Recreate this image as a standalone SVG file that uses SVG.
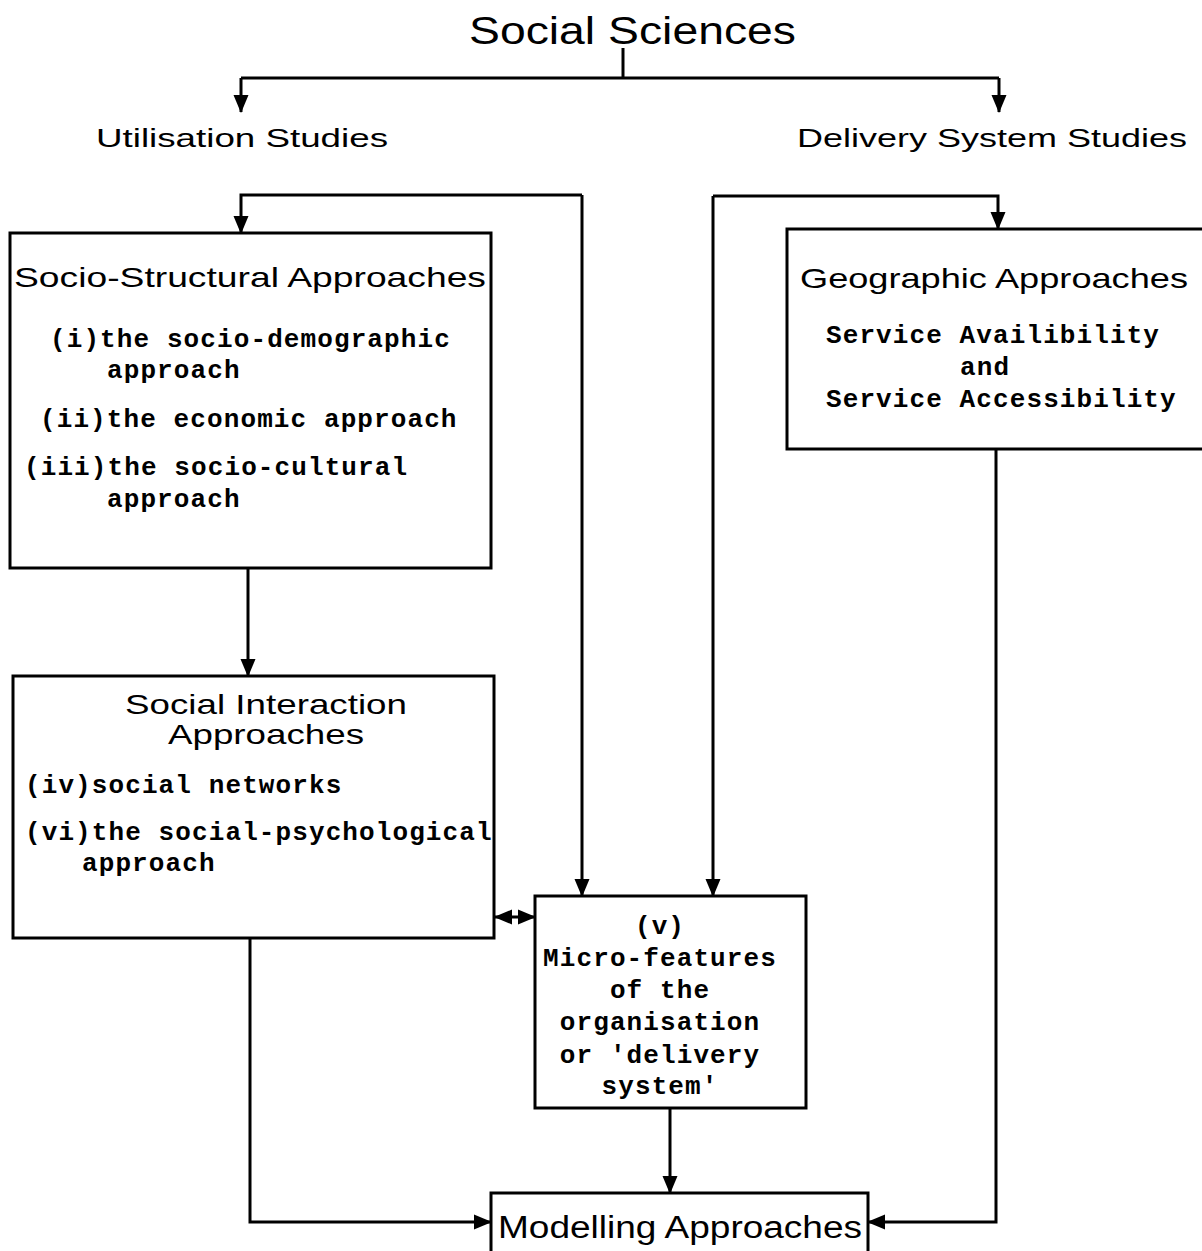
<svg xmlns="http://www.w3.org/2000/svg" width="1202" height="1251" viewBox="0 0 1202 1251">
  <style>
    .bg { fill: #ffffff; }
    .box { fill: #ffffff; stroke: #000; stroke-width: 3; }
    .wire { fill: none; stroke: #000; stroke-width: 3; }
    .head { font-family: "Liberation Sans", Arial, sans-serif; fill: #000; }
    .mono { font-family: "Liberation Mono", "Courier New", monospace; font-weight: bold; font-size: 26px; letter-spacing: 1.1px; fill: #000; }
  </style>
  <defs>
    <marker id="arrow" markerUnits="userSpaceOnUse" markerWidth="18" markerHeight="18" viewBox="0 0 18 18" refX="17" refY="9" orient="auto-start-reverse">
      <path d="M0,1.5 L18,9 L0,16.5 Z" fill="#000"/>
    </marker>
  </defs>
  <rect class="bg" x="0" y="0" width="1202" height="1251"/>

  <!-- connectors -->
  <g id="connectors">
    <path class="wire" d="M623,48 V78"/>
    <path class="wire" d="M241,78 H999"/>
    <path class="wire" d="M241,78 V112" marker-end="url(#arrow)"/>
    <path class="wire" d="M999,78 V112" marker-end="url(#arrow)"/>
    <path class="wire" d="M582,195 H241 V233" marker-end="url(#arrow)"/>
    <path class="wire" d="M582,195 V896" marker-end="url(#arrow)"/>
    <path class="wire" d="M713,196 H998 V229" marker-end="url(#arrow)"/>
    <path class="wire" d="M713,196 V896" marker-end="url(#arrow)"/>
    <path class="wire" d="M248,568 V676" marker-end="url(#arrow)"/>
    <path class="wire" d="M495,917 H535" marker-start="url(#arrow)" marker-end="url(#arrow)"/>
    <path class="wire" d="M670,1108 V1193" marker-end="url(#arrow)"/>
    <path class="wire" d="M250,938 V1222 H491" marker-end="url(#arrow)"/>
    <path class="wire" d="M996,449 V1222 H868" marker-end="url(#arrow)"/>
  </g>

  <!-- top-level headings -->
  <g id="social-sciences">
    <text class="head" x="469" y="44" font-size="38" textLength="327" lengthAdjust="spacingAndGlyphs">Social Sciences</text>
  </g>
  <g id="utilisation-studies">
    <text class="head" x="96" y="147" font-size="26" textLength="292" lengthAdjust="spacingAndGlyphs">Utilisation Studies</text>
  </g>
  <g id="delivery-system-studies">
    <text class="head" x="797" y="147" font-size="26" textLength="390" lengthAdjust="spacingAndGlyphs">Delivery System Studies</text>
  </g>

  <!-- Socio-Structural Approaches -->
  <g id="socio-structural">
    <rect class="box" x="10" y="233" width="481" height="335"/>
    <text class="head" x="14" y="287" font-size="28" textLength="472" lengthAdjust="spacingAndGlyphs">Socio-Structural Approaches</text>
    <text class="mono" x="50" y="347">(i)the socio-demographic</text>
    <text class="mono" x="107" y="378">approach</text>
    <text class="mono" x="40" y="427">(ii)the economic approach</text>
    <text class="mono" x="24" y="475">(iii)the socio-cultural</text>
    <text class="mono" x="107" y="507">approach</text>
  </g>

  <!-- Geographic Approaches -->
  <g id="geographic">
    <rect class="box" x="787" y="229" width="430" height="220"/>
    <text class="head" x="800" y="288" font-size="28" textLength="388" lengthAdjust="spacingAndGlyphs">Geographic Approaches</text>
    <text class="mono" x="826" y="343">Service Availibility</text>
    <text class="mono" x="960" y="375">and</text>
    <text class="mono" x="826" y="407">Service Accessibility</text>
  </g>

  <!-- Social Interaction Approaches -->
  <g id="social-interaction">
    <rect class="box" x="13" y="676" width="481" height="262"/>
    <text class="head" x="266" y="714" font-size="28" text-anchor="middle" textLength="282" lengthAdjust="spacingAndGlyphs">Social Interaction</text>
    <text class="head" x="266" y="744" font-size="28" text-anchor="middle" textLength="196" lengthAdjust="spacingAndGlyphs">Approaches</text>
    <text class="mono" x="25" y="793">(iv)social networks</text>
    <text class="mono" x="25" y="840">(vi)the social-psychological</text>
    <text class="mono" x="82" y="871">approach</text>
  </g>

  <!-- Micro-features -->
  <g id="micro-features">
    <rect class="box" x="535" y="896" width="271" height="212"/>
    <text class="mono" x="660" y="934" text-anchor="middle">(v)</text>
    <text class="mono" x="660" y="966" text-anchor="middle">Micro-features</text>
    <text class="mono" x="660" y="998" text-anchor="middle">of the</text>
    <text class="mono" x="660" y="1030" text-anchor="middle">organisation</text>
    <text class="mono" x="660" y="1063" text-anchor="middle">or 'delivery</text>
    <text class="mono" x="660" y="1094" text-anchor="middle">system'</text>
  </g>

  <!-- Modelling Approaches -->
  <g id="modelling">
    <rect class="box" x="491" y="1193" width="377" height="80"/>
    <text class="head" x="498" y="1238" font-size="31" textLength="364" lengthAdjust="spacingAndGlyphs">Modelling Approaches</text>
  </g>
</svg>
